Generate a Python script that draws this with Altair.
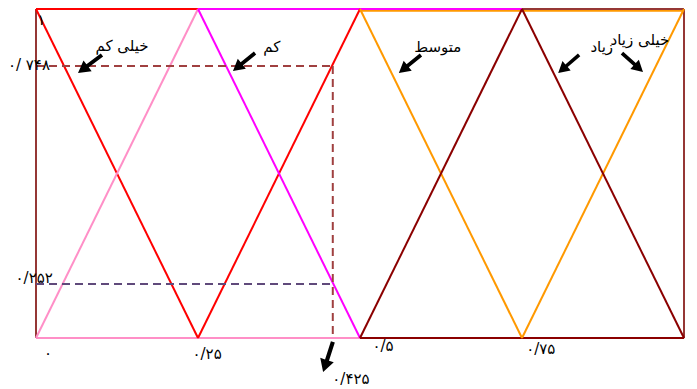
import altair as alt
import pandas as pd

# membership-function segments (x, y) -> (x2, y2)
seg_x1 = [0.0, 0.25, 0.0, 0.25, 0.5, 0.75, 0.5, 0.75]
seg_y1 = [1.0, 0.0, 0.0, 1.0, 1.0, 0.0, 0.0, 1.0]
seg_x2 = [0.25, 0.5, 0.25, 0.5, 0.75, 1.0, 0.75, 1.0]
seg_y2 = [0.0, 1.0, 1.0, 0.0, 0.0, 1.0, 1.0, 0.0]
seg_color = ["#FF0000", "#FF0000", "#FF8FC7", "#FF00FF",
             "#FF9900", "#FF9900", "#8B0000", "#8B0000"]

# frame segments
frm_x1 = [0.5, 0.0, 0.25, 0.75, 0.0, 1.0, 0.0, 0.5]
frm_y1 = [0.995, 1.0, 1.0, 1.0, 0.0, 0.0, 0.0, 0.0]
frm_x2 = [1.0, 0.25, 0.75, 1.0, 0.0, 1.0, 0.5, 1.0]
frm_y2 = [0.995, 1.0, 1.0, 1.0, 1.0, 1.0, 0.0, 0.0]
frm_color = ["#FF9900", "#FF0000", "#FF00FF", "#953735",
             "#953735", "#953735", "#FF8FC7", "#8B0000"]

# dashed guide lines
dash_x1 = [0.0, 0.458, 0.0]
dash_y1 = [0.827, 0.827, 0.164]
dash_x2 = [0.458, 0.458, 0.458]
dash_y2 = [0.827, 0.0, 0.164]
dash_color = ["#A04040", "#A04040", "#604A7B"]

# tick-like labels
lab_text = ["۱", "۰/ ۷۴۸", "۰/۲۵۲", "۰", "۰/۲۵", "۰/۵", "۰/۷۵", "۰/۴۲۵"]
lab_x = [0.008, 0.0216, 0.026, 0.0185, 0.264, 0.5355, 0.779, 0.486]
lab_y = [0.968, 0.830, 0.182, -0.0456, -0.0486, -0.0243, -0.0334, -0.126]
lab_align = ["center", "right", "right", "center", "center", "center", "center", "center"]

# category names
cat_text = ["خیلی کم", "کم", "متوسط", "زیاد", "خیلی زیاد"]
cat_x = [0.1327, 0.364, 0.620, 0.873, 0.932]
cat_y = [0.8875, 0.884, 0.884, 0.884, 0.906]

# arrows (centre, direction, length^2)
arr_x = [0.0833, 0.321, 0.577, 0.822, 0.9205, 0.4506]
arr_y = [0.8328, 0.839, 0.833, 0.833, 0.8374, -0.0578]
arr_angle = [233, 231, 231, 229, 132, 198]
arr_size = [900, 807, 807, 767, 801, 999]

ARROW = "M0,-1L0.45,-0.2L0.13,-0.2L0.13,1L-0.13,1L-0.13,-0.2L-0.45,-0.2Z"

xs = alt.Scale(domain=[0, 1], nice=False, zero=False)
ys = alt.Scale(domain=[0, 1], nice=False, zero=False)

def segs(x1, y1, x2, y2, c):
    return pd.DataFrame({"x": x1, "y": y1, "x2": x2, "y2": y2, "c": c})

frame = alt.Chart(segs(frm_x1, frm_y1, frm_x2, frm_y2, frm_color)).mark_rule(strokeWidth=2).encode(
    x=alt.X("x:Q", scale=xs, axis=None), y=alt.Y("y:Q", scale=ys, axis=None),
    x2="x2:Q", y2="y2:Q", color=alt.Color("c:N", scale=None))

lines = alt.Chart(segs(seg_x1, seg_y1, seg_x2, seg_y2, seg_color)).mark_rule(strokeWidth=2).encode(
    x=alt.X("x:Q", scale=xs, axis=None), y=alt.Y("y:Q", scale=ys, axis=None),
    x2="x2:Q", y2="y2:Q", color=alt.Color("c:N", scale=None))

dashes = alt.Chart(segs(dash_x1, dash_y1, dash_x2, dash_y2, dash_color)).mark_rule(
    strokeWidth=2, strokeDash=[8, 5]).encode(
    x=alt.X("x:Q", scale=xs, axis=None), y=alt.Y("y:Q", scale=ys, axis=None),
    x2="x2:Q", y2="y2:Q", color=alt.Color("c:N", scale=None))

labels_df = pd.DataFrame({"t": lab_text, "x": lab_x, "y": lab_y, "a": lab_align})
labels = alt.layer(*[
    alt.Chart(labels_df[labels_df.a == a]).mark_text(
        font="DejaVu Sans", fontSize=15, color="black", align=a, baseline="middle").encode(
        x=alt.X("x:Q", scale=xs, axis=None), y=alt.Y("y:Q", scale=ys, axis=None), text="t:N")
    for a in ["center", "right"]
])

cats = alt.Chart(pd.DataFrame({"t": cat_text, "x": cat_x, "y": cat_y})).mark_text(
    font="DejaVu Sans", fontSize=15, color="black", align="center", baseline="middle").encode(
    x=alt.X("x:Q", scale=xs, axis=None), y=alt.Y("y:Q", scale=ys, axis=None), text="t:N")

arrows = alt.Chart(pd.DataFrame({"x": arr_x, "y": arr_y, "a": arr_angle, "s": arr_size})).mark_point(
    shape=ARROW, filled=True, color="black", opacity=1, strokeWidth=0).encode(
    x=alt.X("x:Q", scale=xs, axis=None), y=alt.Y("y:Q", scale=ys, axis=None),
    angle=alt.Angle("a:Q", scale=None), size=alt.Size("s:Q", scale=None))

chart = alt.layer(frame, lines, dashes, labels, cats, arrows).properties(
    width=648, height=329,
    padding={"left": 28, "top": 1, "right": 5, "bottom": 50},
    autosize=alt.AutoSizeParams(type="none"),
).configure_view(stroke=None).configure(background="white")

chart.save("out.html", embed_options={"renderer": "svg", "actions": False})
